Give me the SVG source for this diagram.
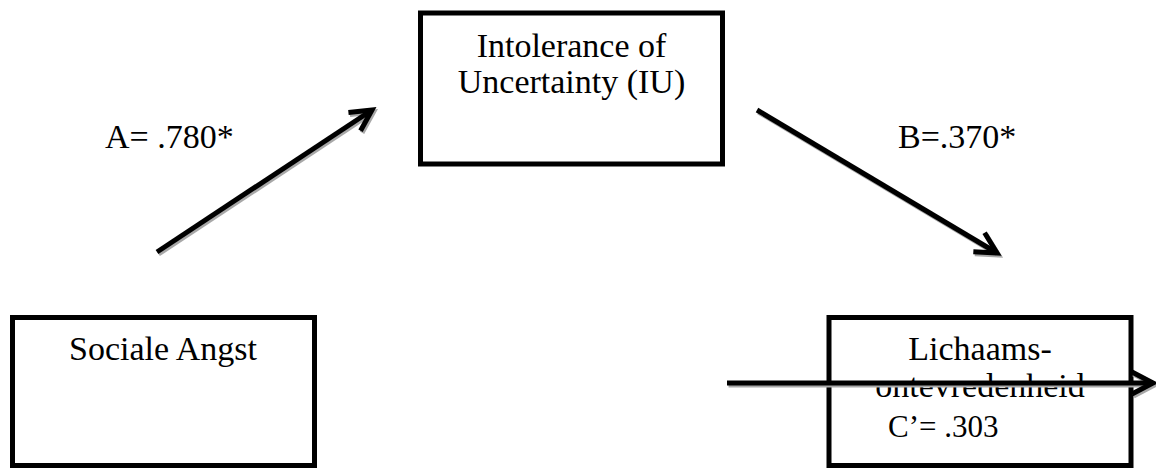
<svg xmlns="http://www.w3.org/2000/svg" width="1156" height="468" viewBox="0 0 1156 468">
<style>
.box{fill:#fff;stroke:#000;stroke-width:5}
.t{font-family:"Liberation Serif","Times New Roman",serif;font-size:34px;fill:#000}
.c{text-anchor:middle}
.ln{fill:none;stroke:#000;stroke-width:5;marker-end:url(#ah)}
.sh{fill:none;stroke:#a8a8a8;stroke-width:5;marker-end:url(#ahs)}
</style>
<defs>
<marker id="ah" markerUnits="userSpaceOnUse" viewBox="-30 -16 40 32" markerWidth="40" markerHeight="32" refX="0" refY="0" orient="auto" overflow="visible">
<path d="M-21,-11 L0,0 L-21,11" fill="none" stroke="#000" stroke-width="5"/>
</marker>
<marker id="ahs" markerUnits="userSpaceOnUse" viewBox="-30 -16 40 32" markerWidth="40" markerHeight="32" refX="0" refY="0" orient="auto" overflow="visible">
<path d="M-21,-11 L0,0 L-21,11" fill="none" stroke="#a8a8a8" stroke-width="5"/>
</marker>
</defs>
<rect width="1156" height="468" fill="#fff"/>
<g id="node-iu">
<rect class="box" x="420.5" y="13" width="302" height="151"/>
<text class="t c" x="571.5" y="57">Intolerance of</text>
<text class="t c" x="571.5" y="93">Uncertainty (IU)</text>
</g>
<g id="node-sociale-angst">
<rect class="box" x="12.5" y="317.5" width="302" height="148"/>
<text class="t c" x="163" y="360">Sociale Angst</text>
</g>
<g id="node-lichaams">
<rect class="box" x="829" y="317.5" width="302" height="148"/>
<text class="t c" x="980" y="360">Lichaams-</text>
<text class="t c" x="980" y="397">ontevredenheid</text>
</g>
<g id="connectors">
<g transform="translate(1.5,2)">
<path class="sh" d="M157,252 L372,110"/>
<path class="sh" d="M757,110 L997,253"/>
<path class="sh" d="M727,383 L1153,383"/>
</g>
<path class="ln" d="M157,252 L372,110"/>
<path class="ln" d="M757,110 L997,253"/>
<path class="ln" d="M727,383 L1153,383"/>
</g>
<g id="labels">
<text class="t" x="105" y="148">A= .780*</text>
<text class="t" x="898" y="148">B=.370*</text>
<text class="t" x="888" y="437" style="font-size:31px">C’= .303</text>
</g>
</svg>
